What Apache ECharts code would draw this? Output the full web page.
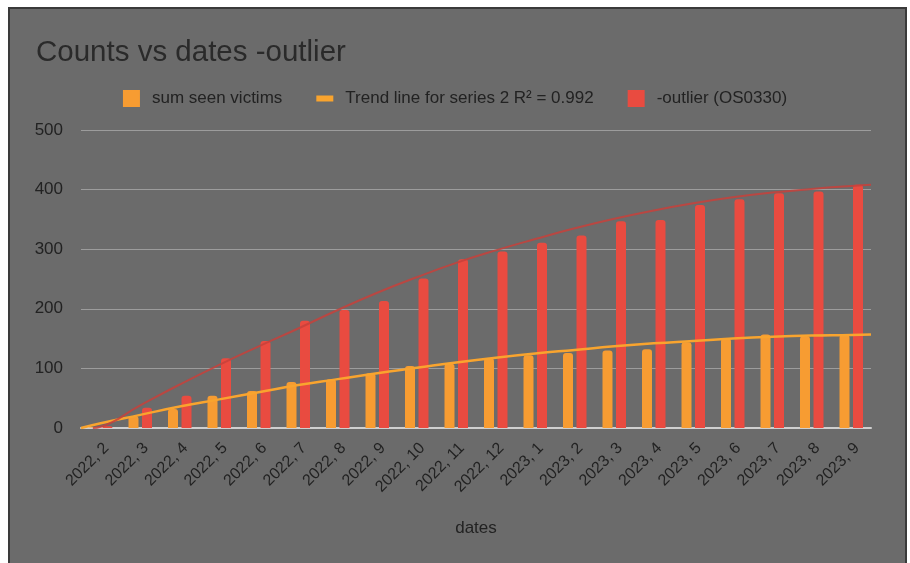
<!DOCTYPE html>
<html>
<head>
<meta charset="utf-8">
<script src="https://cdn.jsdelivr.net/npm/echarts@6/dist/echarts.min.js"></script>
<style>
  html, body { margin: 0; padding: 0; background: #ffffff; }
  #panel {
    position: absolute; left: 8px; top: 7px; width: 895px; height: 560px;
    background: #6b6b6b; border: 2px solid #3a3a3a; border-bottom: none;
  }
  #main { position: absolute; left: 0; top: 0; width: 910px; height: 563px; }
</style>
</head>
<body>
<div id="panel"></div>
<div id="main"></div>
<script>
// categories (x axis)
var dates = ['2022, 2', '2022, 3', '2022, 4', '2022, 5', '2022, 6', '2022, 7', '2022, 8',
  '2022, 9', '2022, 10', '2022, 11', '2022, 12', '2023, 1', '2023, 2', '2023, 3',
  '2023, 4', '2023, 5', '2023, 6', '2023, 7', '2023, 8', '2023, 9'];

// bar values
var seenVictims = [1, 20, 32, 54, 62, 77, 82, 92, 104, 108, 117, 122, 126, 130, 132, 144, 150, 157, 154, 156];
var outlier = [3, 34, 54, 117, 146, 180, 198, 213, 251, 283, 296, 311, 323, 347, 349, 374, 384, 394, 397, 408];

// trend lines, read at category positions (index, value)
var trendSeenPos = [-0.5, 0, 1, 2, 3, 4, 5, 6, 7, 8, 9, 10, 11, 12, 13, 14, 15, 16, 17, 18, 19, 19.5];
var trendSeen = [0, 8, 22, 36, 48, 60, 72, 82, 92, 101, 110, 118, 125, 131, 137, 142, 146, 150, 153, 155, 156, 157];
var trendOutlierPos = [-0.2, 0, 1, 2, 3, 4, 5, 6, 7, 8, 9, 10, 11, 12, 13, 14, 15, 16, 17, 18, 19, 19.5];
var trendOutlier = [0, 2, 38, 73, 106, 137, 167, 198, 227, 253, 277, 298, 317, 335, 351, 365, 377, 387, 395, 401, 406, 408];

function pairs(xs, ys) {
  return xs.map(function (x, i) { return [x, ys[i]]; });
}

var chart = echarts.init(document.getElementById('main'));
var textColor = '#222222';
var font = 'Liberation Sans, Arial, sans-serif';

var option = {
  backgroundColor: 'transparent',
  animation: false,
  title: {
    text: 'Counts vs dates -outlier',
    left: 31,
    top: 33,
    textStyle: { color: '#2a2a2a', fontSize: 29.5, fontWeight: 'normal', fontFamily: font }
  },
  legend: {
    top: 85,
    left: 'center',
    itemGap: 34,
    itemWidth: 17,
    itemHeight: 17,
    textStyle: { color: textColor, fontSize: 17, fontFamily: font, padding: [0, 0, 0, 7] },
    data: [
      { name: 'sum seen victims', icon: 'rect' },
      { name: 'Trend line for series 2 R² = 0.992', icon: 'path://M0,0 L17,0 L17,6 L0,6 Z' },
      { name: '-outlier (OS0330)', icon: 'rect' }
    ]
  },
  grid: { left: 81, right: 39, top: 130, bottom: 135 },
  xAxis: [{
    type: 'category',
    data: dates,
    name: 'dates',
    nameLocation: 'middle',
    nameGap: 92,
    nameTextStyle: { color: textColor, fontSize: 17, fontFamily: font },
    axisLine: { lineStyle: { color: '#cfcfcf', width: 2 } },
    axisTick: { show: false },
    axisLabel: {
      rotate: 45, color: textColor, fontSize: 16, fontFamily: font,
      margin: 12, interval: 0, verticalAlign: 'top'
    }
  }, {
    type: 'value',
    min: -0.5,
    max: 19.5,
    show: false
  }],
  yAxis: {
    type: 'value',
    min: 0,
    max: 500,
    interval: 100,
    axisLine: { show: false },
    axisTick: { show: false },
    axisLabel: { color: textColor, fontSize: 17, fontFamily: font, margin: 18 },
    splitLine: { lineStyle: { color: '#9c9c9c', width: 1 } }
  },
  series: [{
    name: 'sum seen victims',
    type: 'bar',
    data: seenVictims,
    barWidth: 10,
    barGap: '35%',
    itemStyle: { color: '#f79c32', borderRadius: [3, 3, 0, 0] }
  }, {
    name: '-outlier (OS0330)',
    type: 'bar',
    data: outlier,
    barWidth: 10,
    barGap: '35%',
    itemStyle: { color: '#e94b40', borderRadius: [3, 3, 0, 0] }
  }, {
    name: 'Trend line for series 2 R² = 0.992',
    type: 'line',
    xAxisIndex: 1,
    data: pairs(trendSeenPos, trendSeen),
    smooth: true,
    symbol: 'none',
    lineStyle: { color: '#f9a42e', width: 2.5 },
    itemStyle: { color: '#f9a42e' },
    z: 5
  }, {
    name: 'outlier trend',
    type: 'line',
    xAxisIndex: 1,
    data: pairs(trendOutlierPos, trendOutlier),
    smooth: true,
    symbol: 'none',
    lineStyle: { color: '#c7413b', width: 2, opacity: 0.85 },
    z: 5
  }]
};
chart.setOption(option);
</script>
</body>
</html>
